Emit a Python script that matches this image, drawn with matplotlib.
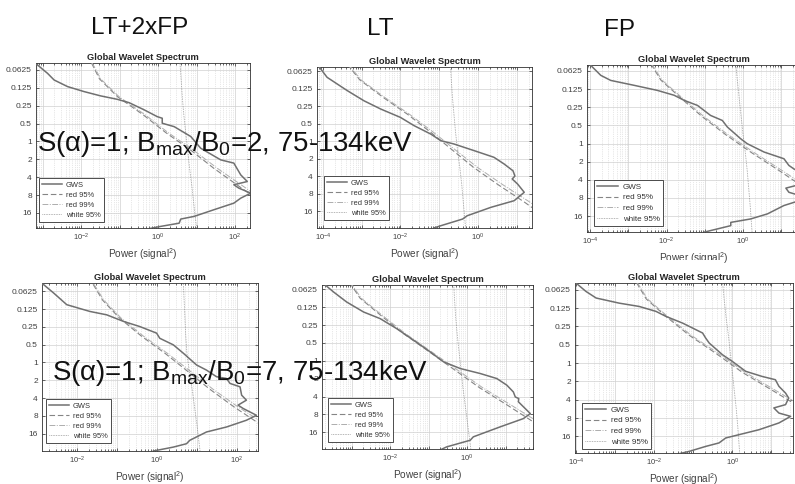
import numpy as np
import matplotlib
matplotlib.use("Agg")
import matplotlib.pyplot as plt
import matplotlib.ticker as mticker
from matplotlib.patches import Rectangle

plt.rcParams["font.family"] = ["Liberation Sans", "DejaVu Sans"]
plt.rcParams["mathtext.fontset"] = "custom"
plt.rcParams["mathtext.rm"] = "Liberation Sans"
plt.rcParams["mathtext.it"] = "Liberation Sans:italic"
plt.rcParams["mathtext.bf"] = "Liberation Sans:bold"

W, H = 795, 484

# ---- data --------------------------------------------------------------
# periods are log2(period), powers are log10(power)
PERIOD_TICKS = [0.0625, 0.125, 0.25, 0.5, 1, 2, 4, 8, 16]
PERIOD_LABELS = ["0.0625", "0.125", "0.25", "0.5", "1", "2", "4", "8", "16"]
LEGEND_LABELS = ["GWS", "red 95%", "red 99%", "white 95%"]
COLUMN_TITLES = ["LT+2xFP", "LT", "FP"]
ROW_NOTES = [r"S(α)=1; B$_{\mathrm{max}}$/B$_0$=2, 75-134keV",
             r"S(α)=1; B$_{\mathrm{max}}$/B$_0$=7, 75-134keV"]

# significance curves are read at these periods
SIG_LOG2P = [-4.4, -3.5, -2.5, -1.5, -0.5, 0.5, 1.5, 2.5, 3.5, 5.0]

# top row, LT+2xFP
TL_GWS_P = [-4.40, -4.28, -3.81, -3.44, -3.07, -2.79, -2.55, -2.36, -2.17, -1.77, -1.39,
            -1.30, -1.02, -0.83, -0.28, 0.38, 1.03, 1.21, 1.87, 2.24, 2.42, 2.61, 2.89,
            3.17, 3.45, 3.82, 4.19, 4.34, 4.57, 4.75, 4.90]
TL_GWS_W = [-3.25, -3.13, -2.87, -2.70, -2.35, -1.92, -1.49, -1.06, -0.75, -0.36, -0.02,
            0.11, 0.11, 0.42, 0.85, 1.11, 1.63, 1.97, 2.15, 2.32, 1.97, 2.10, 2.41,
            2.15, 1.97, 1.45, 0.94, 0.59, 0.55, 0.07, -0.28]
TL_RED95 = [-1.73, -1.52, -1.05, -0.39, 0.20, 0.86, 1.45, 2.10, 2.75, 3.65]
TL_RED99 = [-1.71, -1.49, -1.01, -0.34, 0.26, 0.93, 1.54, 2.21, 2.88, 3.80]
TL_WHITE = [0.57, 0.60, 0.63, 0.67, 0.72, 0.77, 0.82, 0.88, 0.93, 1.01]

# top row, LT
TM_GWS_P = [-4.40, -3.64, -2.88, -2.30, -1.83, -1.35, -0.88, -0.40, -0.02, 0.17, 0.55,
            0.93, 1.31, 1.70, 2.00, 2.17, 2.46, 2.93, 3.41, 3.79, 4.27, 4.46, 4.84, 4.97]
TM_GWS_W = [-4.15, -3.89, -3.37, -2.94, -2.51, -2.00, -1.65, -1.22, -0.96, -0.62, -0.10,
            0.41, 0.67, 0.90, 0.95, 0.88, 1.02, 1.19, 0.93, 0.33, -0.28, -0.40, -0.96, -1.14]
TM_RED95 = [-3.37, -3.05, -2.45, -1.80, -1.22, -0.67, -0.12, 0.52, 1.20, 2.15]
TM_RED99 = [-3.35, -3.02, -2.41, -1.75, -1.15, -0.59, -0.02, 0.64, 1.34, 2.32]
TM_WHITE = [-0.71, -0.69, -0.66, -0.62, -0.58, -0.53, -0.47, -0.42, -0.38, -0.32]

# top row, FP
TR_GWS_P = [-4.41, -3.76, -3.48, -3.21, -2.93, -2.66, -2.38, -2.10, -1.55, -1.27, -0.91,
            -0.26, 0.01, 0.47, 0.84, 1.21, 1.40, 1.80, 2.20, 2.46, 2.69, 3.00, 3.42,
            3.88, 4.16, 4.35, 4.53, 4.71, 4.89]
TR_GWS_W = [-4.03, -3.72, -3.46, -2.85, -2.24, -1.80, -1.54, -1.19, -0.85, -0.54, -0.41,
            -0.06, 0.11, 0.55, 1.07, 1.20, 1.33, 1.65, 1.60, 1.12, 1.20, 1.70, 1.07,
            0.64, 0.20, -0.32, -0.32, -0.67, -1.02]
TR_RED95 = [-2.41, -2.15, -1.62, -1.08, -0.46, 0.22, 0.95, 1.65, 2.30, 3.20]
TR_RED99 = [-2.39, -2.12, -1.58, -1.03, -0.40, 0.29, 1.03, 1.75, 2.42, 3.35]
TR_WHITE = [-0.19, -0.15, -0.10, -0.05, 0.00, 0.06, 0.11, 0.15, 0.19, 0.24]

# bottom row, LT+2xFP
BL_GWS_P = [-4.47, -4.38, -3.91, -3.25, -2.87, -2.68, -2.31, -2.02, -1.65, -1.36, -0.99,
            -0.52, 0.14, 0.43, 0.80, 0.90, 1.18, 1.37, 1.84, 2.12, 2.40, 2.59, 2.97,
            3.25, 3.63, 3.91, 4.19, 4.38, 4.57, 4.76, 4.98]
BL_GWS_W = [-2.92, -2.84, -2.59, -2.26, -1.68, -1.26, -0.84, -0.43, -0.01, 0.07, 0.41,
            0.66, 0.99, 1.24, 1.49, 1.74, 1.83, 2.08, 2.12, 2.24, 2.03, 2.16, 2.49,
            2.24, 1.74, 1.24, 0.99, 0.82, 0.74, 0.41, -0.09]
BL_RED95 = [-1.60, -1.36, -0.94, -0.40, 0.21, 0.77, 1.32, 1.93, 2.60, 3.55]
BL_RED99 = [-1.58, -1.33, -0.90, -0.35, 0.27, 0.84, 1.40, 2.03, 2.73, 3.70]
BL_WHITE = [0.66, 0.68, 0.70, 0.72, 0.75, 0.81, 0.88, 0.94, 1.00, 1.08]

# bottom row, LT
BM_GWS_P = [-4.32, -3.85, -3.29, -2.73, -2.36, -1.80, -1.15, -0.50, 0.06, 0.43, 0.71,
            0.99, 1.36, 1.74, 2.02, 2.11, 2.29, 2.95, 3.23, 3.69, 4.25, 4.44, 4.81, 4.93]
BM_GWS_W = [-3.73, -3.47, -3.13, -2.69, -2.26, -1.83, -1.39, -0.96, -0.61, -0.18, 0.34,
            0.77, 1.03, 1.20, 1.25, 1.34, 1.33, 1.64, 1.46, 0.86, 0.16, 0.08, -0.53, -0.65]
BM_RED95 = [-3.06, -2.78, -2.22, -1.64, -0.98, -0.33, 0.32, 1.06, 1.78, 2.80]
BM_RED99 = [-3.04, -2.75, -2.18, -1.59, -0.92, -0.26, 0.40, 1.16, 1.91, 2.95]
BM_WHITE = [-0.35, -0.33, -0.30, -0.26, -0.21, -0.16, -0.11, -0.05, 0.01, 0.10]

# bottom row, FP
BR_GWS_P = [-4.36, -3.91, -3.55, -3.27, -3.09, -2.82, -2.55, -2.18, -1.64, -1.36, -1.09,
            -0.45, -0.09, 0.45, 0.73, 0.91, 1.27, 1.64, 1.91, 2.27, 2.45, 2.73, 2.91,
            3.27, 3.64, 3.91, 4.09, 4.36, 4.55, 4.82, 4.95]
BR_GWS_W = [-3.99, -3.74, -3.48, -2.89, -2.38, -1.95, -1.70, -1.27, -0.76, -0.68, -0.59,
            -0.25, 0.00, 0.34, 0.76, 1.10, 1.19, 1.36, 1.44, 1.36, 1.06, 1.19, 1.49,
            1.19, 0.68, 0.17, -0.17, -0.34, -0.68, -1.10, -1.36]
BR_RED95 = [-2.45, -2.20, -1.67, -1.09, -0.40, 0.25, 1.03, 1.80, 2.45, 3.40]
BR_RED99 = [-2.43, -2.17, -1.63, -1.04, -0.34, 0.32, 1.11, 1.90, 2.57, 3.55]
BR_WHITE = [-0.25, -0.21, -0.16, -0.10, -0.05, 0.00, 0.05, 0.10, 0.14, 0.19]

# ---- layout (pixels of the 795x484 canvas) -----------------------------
# box = (left, top, right, bottom), xl = log10 limits, yl = log2 limits, leg = lower-left corner
PANELS = [
    dict(box=(36, 63, 250, 228), xl=(-3.17, 2.39), yl=(-4.39, 4.84), leg=(39, 222), lfs=5.4,
         data=(TL_GWS_P, TL_GWS_W, TL_RED95, TL_RED99, TL_WHITE)),
    dict(box=(317, 67, 532, 228), xl=(-4.15, 1.39), yl=(-4.23, 4.97), leg=(324, 220), lfs=5.4,
         data=(TM_GWS_P, TM_GWS_W, TM_RED95, TM_RED99, TM_WHITE)),
    dict(box=(587, 65, 800, 232), xl=(-4.08, 1.49), yl=(-4.33, 4.88), leg=(594, 226), lfs=5.8,
         data=(TR_GWS_P, TR_GWS_W, TR_RED95, TR_RED99, TR_WHITE)),
    dict(box=(42, 283, 258, 451), xl=(-2.88, 2.53), yl=(-4.47, 4.98), leg=(46, 443), lfs=5.4,
         data=(BL_GWS_P, BL_GWS_W, BL_RED95, BL_RED99, BL_WHITE)),
    dict(box=(322, 285, 533, 449), xl=(-3.77, 1.71), yl=(-4.24, 4.93), leg=(328, 442), lfs=5.4,
         data=(BM_GWS_P, BM_GWS_W, BM_RED95, BM_RED99, BM_WHITE)),
    dict(box=(575, 283, 793, 453), xl=(-4.02, 1.55), yl=(-4.37, 4.91), leg=(582, 449), lfs=5.8,
         data=(BR_GWS_P, BR_GWS_W, BR_RED95, BR_RED99, BR_WHITE)),
]

C_AX = "#303030"; C_TXT = "#404040"; C_GRID = "#d0d0d0"
C_GWS = "#707070"; C_R95 = "#858585"; C_R99 = "#adadad"; C_WH = "#858585"


def _xfmt(v, _):
    k = int(round(np.log10(v)))
    return f"$10^{{{k}}}$" if k % 2 == 0 else ""


def draw_panel(fig, p):
    l, t, r, b = p["box"]
    ax = fig.add_axes([l / W, 1 - b / H, (r - l) / W, (b - t) / H])
    gp, gw, r95, r99, wh = p["data"]
    sp = 2.0 ** np.array(SIG_LOG2P)
    h1, = ax.plot(10.0 ** np.array(gw), 2.0 ** np.array(gp), color=C_GWS, lw=1.1, zorder=4)
    h2, = ax.plot(10.0 ** np.array(r95), sp, color=C_R95, lw=0.8, dashes=(5, 2.5), zorder=3)
    h3, = ax.plot(10.0 ** np.array(r99), sp, color=C_R99, lw=0.7, dashes=(6, 1.5, 1, 1.5), zorder=3)
    h4, = ax.plot(10.0 ** np.array(wh), sp, color=C_WH, lw=0.6, dashes=(0.8, 1.2), zorder=3)

    ax.set_xscale("log")
    ax.set_yscale("log", base=2)
    ax.set_xlim(10 ** p["xl"][0], 10 ** p["xl"][1])
    ax.set_ylim(2 ** p["yl"][1], 2 ** p["yl"][0])
    ax.xaxis.set_major_locator(mticker.LogLocator(base=10, numticks=30))
    ax.xaxis.set_major_formatter(mticker.FuncFormatter(_xfmt))
    ax.xaxis.set_minor_locator(mticker.LogLocator(base=10, subs=np.arange(2, 10), numticks=30))
    ax.xaxis.set_minor_formatter(mticker.NullFormatter())
    ax.set_yticks(PERIOD_TICKS)
    ax.set_yticklabels(PERIOD_LABELS)
    ax.yaxis.set_minor_locator(mticker.NullLocator())

    ax.grid(True, which="major", color=C_GRID, lw=0.5, ls="-")
    ax.grid(True, which="minor", axis="x", color=C_GRID, lw=0.5, ls=":")
    ax.set_axisbelow(True)
    ax.tick_params(which="both", direction="in", top=True, right=True, color=C_AX,
                   width=0.5, labelsize=6, labelcolor=C_TXT, pad=3)
    ax.tick_params(which="major", length=2.2)
    ax.tick_params(which="minor", length=1.2)
    ax.tick_params(axis="x", labelsize=5.5)
    for s in ax.spines.values():
        s.set_color(C_AX); s.set_linewidth(0.6)

    ax.set_title("Global Wavelet Spectrum", fontsize=6.7, fontweight="bold", color="#252525", pad=2.5)
    ax.set_xlabel("Power (signal$^2$)", fontsize=7.2, color=C_TXT, labelpad=2)

    lx, ly = p["leg"]
    leg = ax.legend([h1, h2, h3, h4], LEGEND_LABELS, loc="lower left",
                    bbox_to_anchor=(lx / W, 1 - ly / H), bbox_transform=fig.transFigure,
                    fontsize=p["lfs"], frameon=True, fancybox=False, edgecolor=C_AX,
                    framealpha=1, borderaxespad=0, borderpad=0.4, handlelength=2.6,
                    handletextpad=0.6, labelspacing=0.38)
    leg.get_frame().set_linewidth(0.6)
    for tx in leg.get_texts():
        tx.set_color("#333333")
    return ax


fig = plt.figure(figsize=(W / 100, H / 100), dpi=100, facecolor="white")
for p in PANELS:
    draw_panel(fig, p)

# white strip of the bottom-right screenshot cutting the label above it
fig.add_artist(Rectangle((560 / W, 1 - 270 / H), 160 / W, 10 / H, transform=fig.transFigure,
                         facecolor="white", edgecolor="none", zorder=10))

for txt, x, y in zip(COLUMN_TITLES, [140, 380, 620], [28, 29, 30]):
    fig.text(x / W, 1 - y / H, txt, ha="center", va="center", fontsize=17.5, color="#111111")

fig.text(37 / W, 1 - 151 / H, ROW_NOTES[0], ha="left", va="baseline", fontsize=19.9,
         color="#111111", zorder=20)
fig.text(52 / W, 1 - 380 / H, ROW_NOTES[1], ha="left", va="baseline", fontsize=19.9,
         color="#111111", zorder=20)

fig.savefig("out.png", dpi=100, facecolor="white")
